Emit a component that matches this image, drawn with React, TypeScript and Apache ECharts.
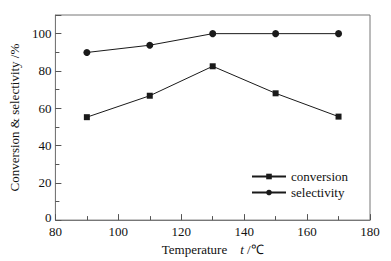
import React, { useEffect, useRef } from "react";
import * as echarts from "echarts";

const temperatures = [90, 110, 130, 150, 170];
const conversion = [55.2, 66.7, 82.5, 68.0, 55.5];
const selectivity = [89.9, 93.8, 100, 100, 100];

const FONT = "'Liberation Serif', 'Times New Roman', serif";

export default function App() {
  const ref = useRef<HTMLDivElement>(null);
  useEffect(() => {
    if (!ref.current) return;
    const chart = echarts.init(ref.current, null, { renderer: "svg" });
    const lineColor = "#1a1a1a";
    chart.setOption({
      animation: false,
      backgroundColor: "#ffffff",
      textStyle: { fontFamily: FONT },
      grid: {
        left: 54,
        right: 21,
        top: 15,
        bottom: 38.5,
        show: true,
        borderColor: "#777",
        borderWidth: 1,
      },
      legend: {
        orient: "vertical",
        left: 246,
        top: 165,
        itemWidth: 34,
        itemHeight: 7,
        itemGap: 3,
        textStyle: { fontFamily: FONT, fontSize: 13, color: "#111" },
        data: ["conversion", "selectivity"],
      },
      xAxis: {
        type: "value",
        min: 80,
        max: 180,
        interval: 20,
        name: "Temperature    {i|t} /℃",
        nameLocation: "middle",
        nameGap: 19,
        nameTextStyle: {
          fontFamily: FONT,
          fontSize: 13,
          color: "#111",
          rich: { i: { fontStyle: "italic", fontFamily: FONT, fontSize: 13, color: "#111" } },
        },
        axisLine: { show: true, lineStyle: { color: "#777", width: 1 } },
        axisTick: { show: true, inside: true, length: 6, lineStyle: { color: "#555" } },
        minorTick: { show: true, splitNumber: 2, length: 4, lineStyle: { color: "#555" } },
        axisLabel: { fontFamily: FONT, fontSize: 13, color: "#111", margin: 5 },
        splitLine: { show: false },
      },
      yAxis: {
        type: "value",
        min: 0,
        max: 110,
        interval: 20,
        name: "Conversion & selectivity /%",
        nameLocation: "middle",
        nameGap: 21,
        nameTextStyle: { fontFamily: FONT, fontSize: 13, color: "#111" },
        axisLine: { show: true, lineStyle: { color: "#777", width: 1 } },
        axisTick: { show: true, inside: true, length: 6, lineStyle: { color: "#555" } },
        minorTick: { show: true, splitNumber: 2, length: 4, lineStyle: { color: "#555" } },
        axisLabel: {
          fontFamily: FONT,
          fontSize: 13,
          color: "#111",
          margin: 4,
          showMaxLabel: false,
          formatter: (v: number) => (v === 0 ? "{z|0}" : String(v)),
          rich: { z: { fontFamily: FONT, fontSize: 13, color: "#111", padding: [0, 0, 6, 0] } },
        },
        splitLine: { show: false },
      },
      series: [
        {
          name: "conversion",
          type: "line",
          data: temperatures.map((t, i) => [t, conversion[i]]),
          symbol: "rect",
          symbolSize: 6,
          itemStyle: { color: lineColor },
          lineStyle: { color: lineColor, width: 1 },
        },
        {
          name: "selectivity",
          type: "line",
          data: temperatures.map((t, i) => [t, selectivity[i]]),
          symbol: "circle",
          symbolSize: 7,
          itemStyle: { color: lineColor },
          lineStyle: { color: lineColor, width: 1 },
        },
      ],
    });
    return () => chart.dispose();
  }, []);
  return <div ref={ref} style={{ width: 391, height: 261, position: "absolute", left: 0, top: 0 }} />;
}
